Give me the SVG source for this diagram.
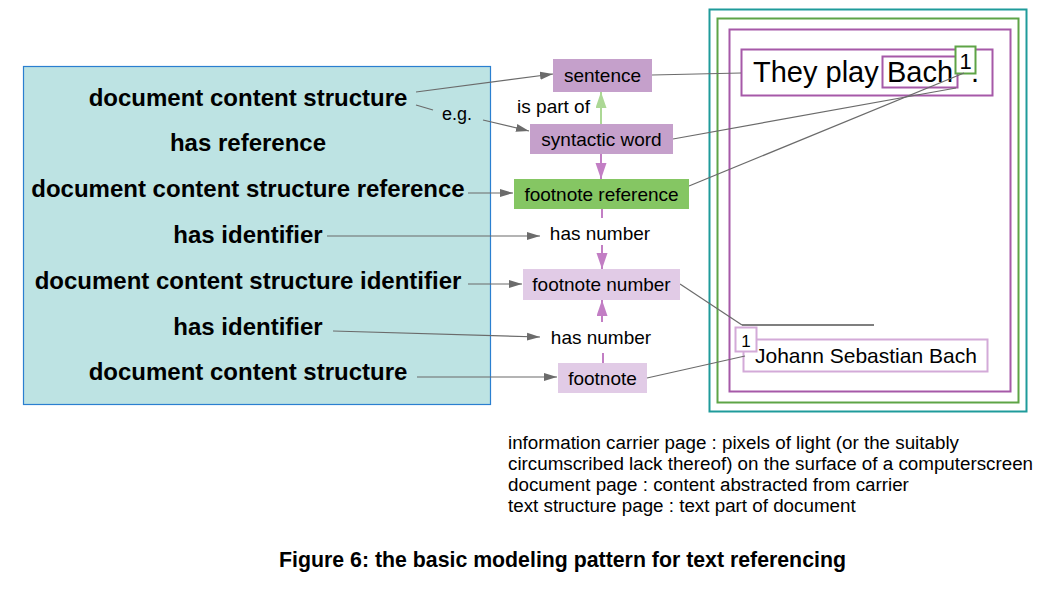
<svg xmlns="http://www.w3.org/2000/svg" width="1058" height="595" viewBox="0 0 1058 595">
<style>
.bold{font-family:"Liberation Sans",Arial,sans-serif;font-weight:bold;font-size:24px;fill:#000;text-anchor:middle}
.lbl{font-family:"Liberation Sans",Arial,sans-serif;font-size:19px;fill:#000;text-anchor:middle}
.txt{font-family:"Liberation Sans",Arial,sans-serif;fill:#000}
.gc{stroke:#6b6b6b;stroke-width:1.2;fill:none}
.gca{stroke:#6b6b6b;stroke-width:1.2;fill:none;marker-end:url(#ag)}
.pl{stroke:#c27ec4;stroke-width:2;fill:none}
.pla{stroke:#c27ec4;stroke-width:2;fill:none;marker-end:url(#ap)}
.mid{fill:#c5a0cb}
.light{fill:#e1cbe6}
.pg{fill:none;stroke-width:2}
</style>
<defs>
<marker id="ag" markerUnits="userSpaceOnUse" markerWidth="14" markerHeight="10" refX="13" refY="4.5" orient="auto"><path d="M0,0.5 L13,4.5 L0,8.5 z" fill="#6b6b6b"/></marker>
<marker id="ap" markerUnits="userSpaceOnUse" markerWidth="17" markerHeight="12" refX="16" refY="5.5" orient="auto"><path d="M0,0 L16,5.5 L0,11 z" fill="#c27ec4"/></marker>
<marker id="agr" markerUnits="userSpaceOnUse" markerWidth="17" markerHeight="12" refX="16" refY="5.5" orient="auto"><path d="M0,0 L16,5.5 L0,11 z" fill="#acd895"/></marker>
</defs>

<g id="left-box">
<rect x="23.5" y="66.5" width="467" height="338" fill="#bde3e3" stroke="#2a7fd0" stroke-width="1.2"/>
<text class="bold" x="248" y="106">document content structure</text>
<text class="bold" x="248" y="151">has reference</text>
<text class="bold" x="248" y="197">document content structure reference</text>
<text class="bold" x="248" y="243">has identifier</text>
<text class="bold" x="248" y="289">document content structure identifier</text>
<text class="bold" x="248" y="335">has identifier</text>
<text class="bold" x="248" y="380">document content structure</text>
</g>

<g id="page">
<rect class="pg" x="709.5" y="9.5" width="317" height="402" stroke="#1f9b9b"/>
<rect class="pg" x="717.5" y="18.5" width="301" height="384" stroke="#5ea446"/>
<rect class="pg" x="729.5" y="29.5" width="281" height="362" stroke="#a659a8"/>
<rect class="pg" x="741.5" y="49.5" width="251" height="46" stroke="#a659a8"/>
<text class="txt" x="753" y="82" font-size="29">They play</text>
<rect class="pg" x="882.5" y="56.5" width="75" height="31" stroke="#a659a8"/>
<text class="txt" x="887" y="82" font-size="29">Bach</text>
<rect x="955.5" y="46.5" width="20" height="27" fill="#fff" stroke="#5ea446" stroke-width="2"/>
<text class="txt" x="965.5" y="69" font-size="22" text-anchor="middle">1</text>
<text class="txt" x="971" y="82" font-size="29">.</text>
<line x1="742" y1="325" x2="874" y2="325" stroke="#000" stroke-width="1.2"/>
<rect x="743.5" y="339.5" width="244" height="32" fill="#fff" stroke="#d3aad8" stroke-width="2"/>
<rect x="735.5" y="327.5" width="21" height="24" fill="#fff" stroke="#d3aad8" stroke-width="2"/>
<text class="txt" x="746" y="347" font-size="17" text-anchor="middle">1</text>
<text class="txt" x="755" y="363" font-size="21">Johann Sebastian Bach</text>
</g>

<g id="connectors">
<path class="gca" d="M416,92 L553,74"/>
<path class="gc" d="M416,105 L433,110"/>
<text class="txt" x="457" y="120" font-size="18" text-anchor="middle">e.g.</text>
<path class="gca" d="M483,120 L529,131"/>
<path class="gca" d="M468,193 L513,193"/>
<path class="gca" d="M327,236 L540,236"/>
<path class="gca" d="M468,284 L522,284"/>
<path class="gca" d="M333,331 L540,337"/>
<path class="gca" d="M417,377 L557,377"/>
<path class="gc" d="M652,75 L741,73"/>
<path class="gc" d="M673,139 L956,88"/>
<path class="gc" d="M689,186 L964,73"/>
<path class="gc" d="M680,284 L742,325"/>
<path class="gc" d="M647,378 L745,356"/>
<path d="M601,124 L601,92" stroke="#acd895" stroke-width="2" fill="none" marker-end="url(#agr)"/>
<text class="lbl" x="553.5" y="113">is part of</text>
<path class="pla" d="M601,154 L601,179"/>
<path class="pl" d="M602,209 L602,218"/>
<text class="lbl" x="600" y="240">has number</text>
<path class="pla" d="M602,245 L602,269"/>
<path class="pla" d="M602,322 L602,300"/>
<text class="lbl" x="601" y="344">has number</text>
<path class="pl" d="M603,353 L603,363"/>
</g>

<g id="sentence"><rect class="mid" x="553" y="59" width="99" height="33"/><text class="lbl" x="602.5" y="81.5">sentence</text></g>
<g id="syntactic-word"><rect class="mid" x="530" y="124" width="143" height="30"/><text class="lbl" x="601.5" y="145.5">syntactic word</text></g>
<g id="footnote-reference"><rect x="514" y="179" width="175" height="30" fill="#85c663"/><text class="lbl" x="601.5" y="200.5">footnote reference</text></g>
<g id="footnote-number"><rect class="light" x="523" y="269" width="157" height="31"/><text class="lbl" x="601.5" y="291">footnote number</text></g>
<g id="footnote"><rect class="light" x="558" y="363" width="89" height="30"/><text class="lbl" x="602.5" y="384.5">footnote</text></g>

<g id="notes">
<text class="txt" x="508" y="449" font-size="18.8">information carrier page : pixels of light (or the suitably</text>
<text class="txt" x="508" y="470" font-size="18.8">circumscribed lack thereof) on the surface of a computerscreen</text>
<text class="txt" x="508" y="491" font-size="18.8">document page : content abstracted from carrier</text>
<text class="txt" x="508" y="512" font-size="18.8">text structure page : text part of document</text>
</g>
<text id="caption" class="txt" x="562.5" y="567" font-size="21.3" font-weight="bold" text-anchor="middle">Figure 6: the basic modeling pattern for text referencing</text>
</svg>
